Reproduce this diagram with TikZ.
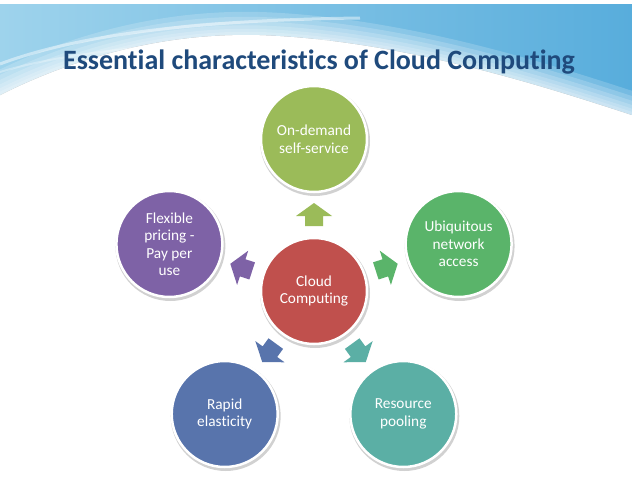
\documentclass[tikz,border=0pt]{standalone}
\usepackage{fontspec}
\setmainfont{Carlito}[Ligatures=CommonOff]
\definecolor{cred}{HTML}{C0504D}
\definecolor{clime}{HTML}{9BBB59}
\definecolor{cgreen}{HTML}{5AB46A}
\definecolor{cteal}{HTML}{5BAFA5}
\definecolor{cblue}{HTML}{5874AC}
\definecolor{cpurple}{HTML}{7E62A6}
\definecolor{ctitle}{HTML}{1F4A7C}
\definecolor{skyA}{HTML}{9ED3EC}
\definecolor{skyB}{HTML}{58ADDC}
\tikzset{
  bubble/.style={circle, minimum size=106pt, inner sep=0pt, draw=white, line width=2.5pt,
    text=white, align=center, font=\fontsize{15.3}{17.5}\selectfont},
  bshadow/.style={fill=black, opacity=0.18},
  softedge/.style={white, opacity=0.18}
}
\begin{document}
\begin{tikzpicture}[x=1pt,y=-1pt]
\useasboundingbox (0,0) rectangle (638,479);
\fill[white] (0,0) rectangle (638,479);
% sky swoosh
\fill[left color=skyA, right color=skyB]
  (0,4) -- (632,4) -- (632,115) .. controls (540,85) and (400,40) .. (260,35)
  .. controls (150,32) and (60,65) .. (0,95) -- cycle;
\foreach \w in {46,36,27,19,12,6}
  \draw[softedge, line width=\w pt]
    (632,115) .. controls (540,85) and (400,40) .. (260,35)
    .. controls (150,32) and (60,65) .. (0,95);
\draw[white, opacity=0.45, line width=3pt]
  (0,64) .. controls (80,34) and (200,20) .. (360,18);
\draw[white, opacity=0.3, line width=2pt]
  (0,72) .. controls (80,48) and (200,40) .. (330,40);
\fill[white] (632,0) rectangle (638,140);
\fill[white] (0,0) rectangle (638,3);
% title
\node[anchor=base, text=ctitle, font=\fontsize{28}{32}\selectfont\bfseries] (title) at (319,69)
  {Essential characteristics of Cloud Computing};
% shadows
\foreach \p in {(314,291),(314,139),(458.6,244),(403.3,414),(224.7,414),(169.4,244)}
  \fill[bshadow] \p ++(1,2) circle (55);
% arrows
\foreach \ang/\col in {90/clime, 18/cgreen, -54/cteal, -126/cblue, 162/cpurple}{
  \begin{scope}[shift={(314,291)}, rotate=\ang]
    \fill[\col] (65,-9) -- (75,-9) -- (75,-18) -- (88,0) -- (75,18) -- (75,9) -- (65,9) -- cycle;
  \end{scope}
}
% circles
\node[bubble, fill=cred] (center) at (314,291) {Cloud\\Computing};
\node[bubble, fill=clime] (ondemand) at (314,139) {On-demand\\self-service};
\node[bubble, fill=cgreen] (network) at (458.6,244) {Ubiquitous\\network\\access};
\node[bubble, fill=cteal] (pooling) at (403.3,414) {Resource\\pooling};
\node[bubble, fill=cblue] (elastic) at (224.7,414) {Rapid\\elasticity};
\node[bubble, fill=cpurple] (pricing) at (169.4,244) {Flexible\\pricing -\\Pay per\\use};
\end{tikzpicture}
\end{document}
